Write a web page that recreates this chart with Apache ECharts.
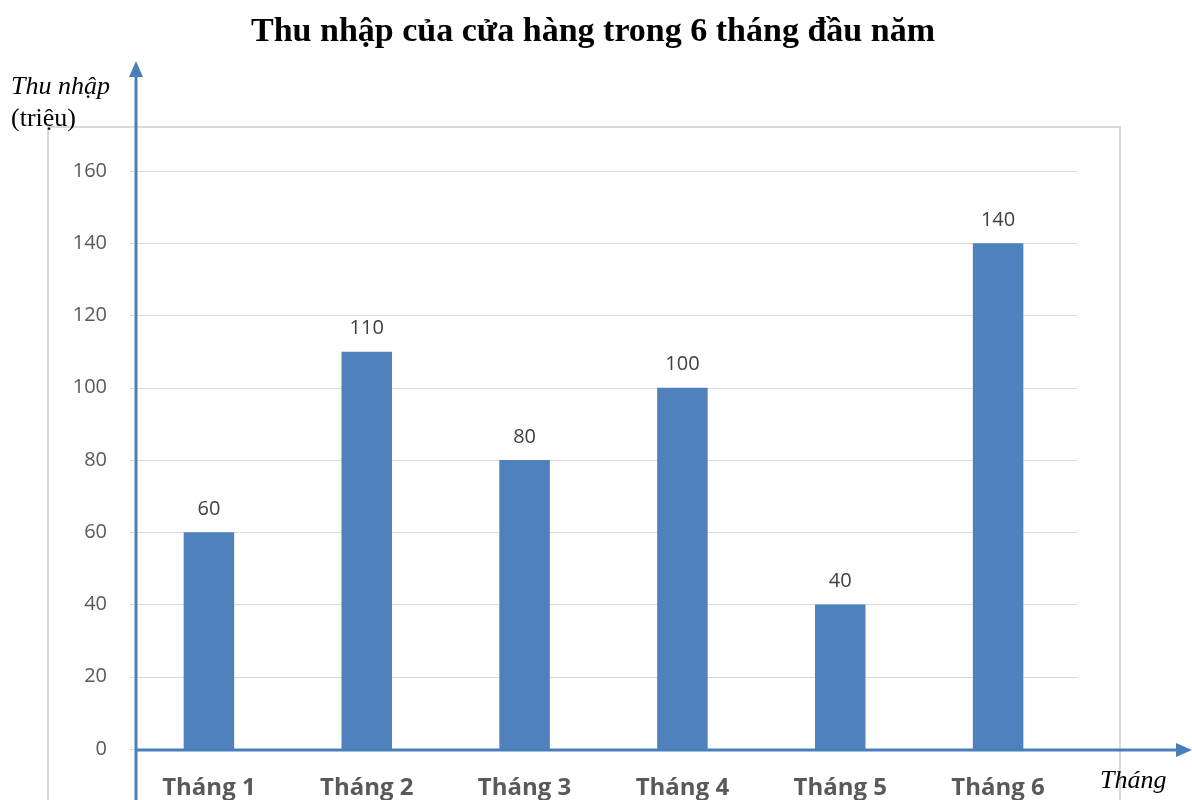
<!DOCTYPE html>
<html><head><meta charset="utf-8">
<script src="https://cdn.jsdelivr.net/npm/echarts@6/dist/echarts.min.js"></script>
<style>html,body{margin:0;padding:0;background:#fff}#c{width:1192px;height:800px}</style>
</head><body><div id="c"></div>
<script>
const categories = ['Tháng 1','Tháng 2','Tháng 3','Tháng 4','Tháng 5','Tháng 6'];
const values = [60, 110, 80, 100, 40, 140];
const yTicks = [0,20,40,60,80,100,120,140,160];

const chart = echarts.init(document.getElementById('c'));
chart.setOption({
  backgroundColor:'#fff',
  animation:false,
  title:{text:'Thu nhập của cửa hàng trong 6 tháng đầu năm', left:588, top:10, textAlign:'center',
    textStyle:{fontFamily:'Liberation Serif', fontWeight:'bold', fontSize:34, color:'#000'}},
  grid:{left:130, right:115, top:171, bottom:51},
  xAxis:{type:'category', data:categories,
    axisLine:{show:true, lineStyle:{color:'#d9d9d9', width:1}},
    axisTick:{show:false},
    axisLabel:{margin:27, fontFamily:'Open Sans', fontWeight:'bold', fontSize:24, color:'#595959'}},
  yAxis:{type:'value', min:yTicks[0], max:yTicks[yTicks.length-1], interval:20,
    axisLine:{show:false}, axisTick:{show:false},
    axisLabel:{margin:23, fontFamily:'Open Sans', fontSize:20, color:'#595959'},
    splitLine:{lineStyle:{color:'#d9d9d9', width:1}}},
  series:[{type:'bar', data:values, barWidth:'32%',
    itemStyle:{color:'#4f81bd'},
    label:{show:true, position:'top', distance:13, fontFamily:'Open Sans', fontSize:20, color:'#404040'}}],
  graphic:[
    {type:'rect', z:-1, shape:{x:48,y:127,width:1072,height:700}, style:{fill:'none', stroke:'#d9d9d9', lineWidth:2}},
    {type:'line', z:10, shape:{x1:136,y1:800,x2:136,y2:72}, style:{stroke:'#4a7ebb', lineWidth:3}},
    {type:'polygon', z:10, shape:{points:[[136,61],[129,77],[143,77]]}, style:{fill:'#4a7ebb'}},
    {type:'line', z:10, shape:{x1:136,y1:750,x2:1182,y2:750}, style:{stroke:'#4a7ebb', lineWidth:3}},
    {type:'polygon', z:10, shape:{points:[[1192,750],[1176,743],[1176,757]]}, style:{fill:'#4a7ebb'}},
    {type:'text', left:11, top:74, style:{text:'Thu nhập', font:'italic 26px "Liberation Serif"', fill:'#000'}},
    {type:'text', left:11, top:106, style:{text:'(triệu)', font:'26px "Liberation Serif"', fill:'#000'}},
    {type:'text', left:1100, top:768, style:{text:'Tháng', font:'italic 26px "Liberation Serif"', fill:'#000'}}
  ]
});
</script></body></html>
